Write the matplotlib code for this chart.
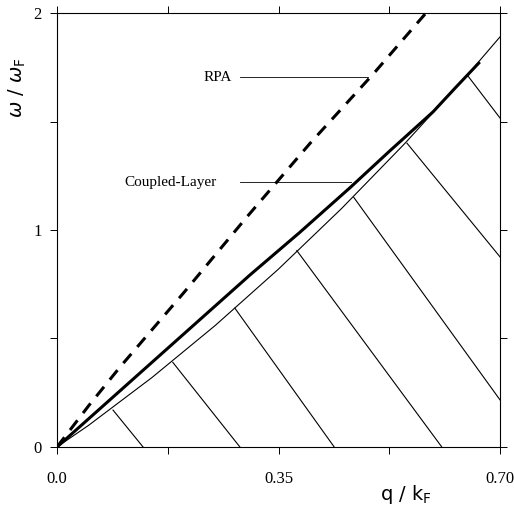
import matplotlib.pyplot as plt
from matplotlib.ticker import FixedLocator

# RPA plasmon (dashed)
q_rpa = [0.0, 0.05, 0.1, 0.2, 0.3, 0.4, 0.5, 0.583]
w_rpa = [0.0, 0.19, 0.37, 0.71, 1.06, 1.40, 1.72, 2.0]

# coupled-layer mode (thick)
q_cl = [0.0, 0.1, 0.2, 0.305, 0.384, 0.463, 0.526, 0.594, 0.63, 0.668]
w_cl = [0.0, 0.26, 0.52, 0.793, 0.99, 1.195, 1.365, 1.544, 1.657, 1.774]

# particle-hole continuum edge (thin)
q_ph = [0.0, 0.05, 0.1, 0.15, 0.2, 0.25, 0.3, 0.35, 0.4, 0.45, 0.5, 0.55, 0.6, 0.65, 0.7]
w_ph = [0.0, 0.10, 0.21, 0.32, 0.44, 0.56, 0.69, 0.82, 0.96, 1.10, 1.25, 1.40, 1.56, 1.72, 1.89]

# hatch strokes inside the continuum: start (q, w) -> end (q, w)
hatch_q0 = [0.0885, 0.183, 0.281, 0.379, 0.469, 0.553, 0.648]
hatch_w0 = [0.17, 0.39, 0.64, 0.905, 1.15, 1.40, 1.715]
hatch_q1 = [0.136, 0.289, 0.438, 0.608, 0.70, 0.70, 0.70]
hatch_w1 = [0.0, 0.0, 0.0, 0.0, 0.217, 0.876, 1.516]

serif = 'Liberation Serif'

fig = plt.figure(figsize=(5.14, 5.08), dpi=100)
ax = fig.add_axes([0.1109, 0.1201, 0.8619, 0.8543])

ax.plot(q_ph, w_ph, color='black', lw=0.8)
for a, b, c, d in zip(hatch_q0, hatch_w0, hatch_q1, hatch_w1):
    ax.plot([a, c], [b, d], color='black', lw=0.8)
ax.plot(q_cl, w_cl, color='black', lw=2.2, solid_capstyle='butt')
ax.plot(q_rpa, w_rpa, color='black', lw=2.2, dashes=(4, 3), dash_capstyle='butt')

# labels with leader lines
ax.plot([0.289, 0.491], [1.705, 1.705], color='black', lw=0.6)
ax.text(0.2765, 1.705, 'RPA', family=serif, fontsize=11, ha='right', va='center')
ax.plot([0.289, 0.4645], [1.221, 1.221], color='black', lw=0.6)
ax.text(0.253, 1.221, 'Coupled-Layer', family=serif, fontsize=11, ha='right', va='center')

ax.set_xlim(0, 0.7)
ax.set_ylim(0, 2)
ax.xaxis.set_major_locator(FixedLocator([0.0, 0.35, 0.7]))
ax.xaxis.set_minor_locator(FixedLocator([0.175, 0.525]))
ax.yaxis.set_major_locator(FixedLocator([0, 1, 2]))
ax.yaxis.set_minor_locator(FixedLocator([0.5, 1.5]))
ax.set_xticklabels(['0.0', '0.35', '0.70'], family=serif, fontsize=12)
ax.set_yticklabels(['0', '1', '2'], family=serif, fontsize=12)
ax.tick_params(which='both', direction='out', length=5, width=0.7,
               top=True, right=True)
ax.tick_params(axis='x', pad=12)
ax.tick_params(axis='y', pad=6)
for s in ax.spines.values():
    s.set_linewidth(0.8)

fig.text(17 / 514, 1 - 88 / 508, r'$\omega$ / $\omega_\mathrm{F}$', rotation=90,
         fontsize=14, ha='center', va='center')
fig.text(406 / 514, 1 - 494 / 508, r'q / k$_\mathrm{F}$', fontsize=14,
         ha='center', va='center')

fig.savefig('out.png', dpi=100)
